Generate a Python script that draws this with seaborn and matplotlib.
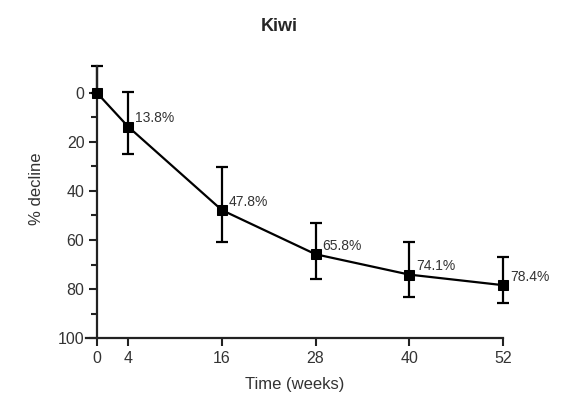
import matplotlib
matplotlib.use("Agg")
import matplotlib.pyplot as plt
import seaborn as sns
import pandas as pd
from matplotlib.ticker import FixedLocator

weeks = [0, 4, 16, 28, 40, 52]
decline = [0, 13.8, 47.8, 65.8, 74.1, 78.4]
err_minus = [11, 14.2, 17.4, 12.6, 13.2, 11.4]   # toward lower % decline
err_plus = [0, 11, 13, 10, 9, 7.4]              # toward higher % decline
labels = ["", "13.8%", "47.8%", "65.8%", "74.1%", "78.4%"]
xticks = [0, 4, 16, 28, 40, 52]
yticks = [0, 20, 40, 60, 80, 100]
yminor = [10, 30, 50, 70, 90]

sns.set_theme(style="ticks")
plt.rcParams['font.family'] = ['Liberation Sans', 'DejaVu Sans']

df = pd.DataFrame({"week": weeks, "decline": decline})

fig = plt.figure(figsize=(5.62, 4.04), dpi=100)
ax = fig.add_axes([0.153, 0.163, 0.742, 0.674])

ax.errorbar(weeks, decline, yerr=[err_minus, err_plus], fmt="none", ecolor="black",
            elinewidth=1.6, capsize=4.5, capthick=1.6, clip_on=False, zorder=2)
sns.lineplot(data=df, x="week", y="decline", ax=ax, color="black",
             linewidth=1.6, marker="s", markersize=7, markeredgecolor="black",
             markerfacecolor="black", clip_on=False, zorder=3)

for w, d, t in zip(weeks, decline, labels):
    if t:
        ax.annotate(t, (w, d), xytext=(5, 6), textcoords="offset points",
                    fontsize=10, color="#333333", ha="left", va="center")

ax.set_xlim(-1.4, 52)
ax.set_ylim(100, -11)
ax.spines['left'].set_position(('data', 0))
ax.spines['top'].set_visible(False)
ax.spines['right'].set_visible(False)
for s in ['left', 'bottom']:
    ax.spines[s].set_linewidth(1.6)
    ax.spines[s].set_color('#222222')

ax.set_xticks(xticks)
ax.set_yticks(yticks)
ax.yaxis.set_minor_locator(FixedLocator(yminor))
ax.tick_params(axis='both', which='major', length=6, width=1.5, labelsize=11.5,
               colors='#222222', labelcolor='#333333', pad=3)
ax.tick_params(axis='y', which='minor', length=4, width=1.5, colors='#222222')

ax.set_xlabel("Time (weeks)", fontsize=12, color='#333333', labelpad=8)
ax.set_ylabel("% decline", fontsize=12, color='#333333')
ax.yaxis.set_label_coords(-0.1, 0.55)
fig.text(0.497, 0.935, "Kiwi", fontsize=13, fontweight='bold', ha='center', va='center')

fig.savefig("out.png", dpi=100)
